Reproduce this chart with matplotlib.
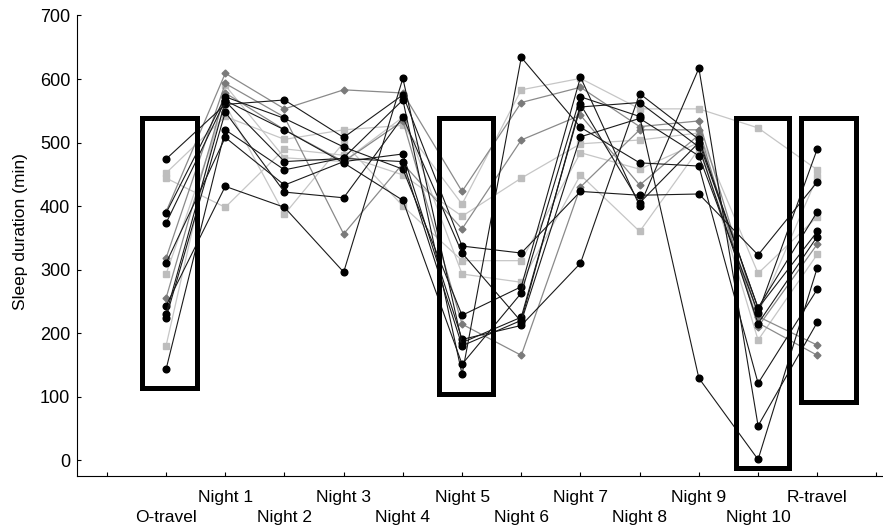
import matplotlib
matplotlib.use("Agg")
import matplotlib.pyplot as plt
from matplotlib.patches import Rectangle

plt.rcParams['font.family'] = ['Liberation Sans', 'DejaVu Sans']

# nights (positions 1..12 on the x axis)
nights = ['O-travel', 'Night 1', 'Night 2', 'Night 3', 'Night 4', 'Night 5',
          'Night 6', 'Night 7', 'Night 8', 'Night 9', 'Night 10', 'R-travel']

# sleep duration (min) per subject
black_subjects = [
    [474, 560, 567, 508, 575, 337, 326, 423, 417, 419, 323, 438],
    [143, 520, 457, 476, 567, 135, 634, 524, 468, 463, 121, 269],
    [310, 508, 433, 470, 482, 190, 212, 310, 577, 505, 239, 360],
    [389, 572, 538, 493, 458, 228, 273, 603, 400, 617, 54, 217],
    [373, 566, 520, 468, 409, 151, 263, 572, 541, 129, 1, 303],
    [243, 431, 398, 296, 601, 185, 225, 556, 563, 493, 215, 352],
    [224, 548, 422, 413, 540, 326, 218, 509, 538, 479, 232, 490],
    [230, 565, 470, 475, 470, 180, 220, 560, 405, 500, 240, 391],
]
gray_subjects = [
    [391, 609, 553, 583, 578, 423, 563, 587, 525, 534, 226, 181],
    [318, 593, 540, 356, 467, 364, 504, 543, 433, 512, 216, 165],
    [255, 578, 520, 470, 534, 214, 165, 430, 520, 520, 210, 340],
]
light_subjects = [
    [452, 541, 505, 520, 527, 403, 583, 601, 553, 553, 523, 457],
    [444, 398, 490, 480, 449, 384, 444, 498, 504, 515, 294, 383],
    [293, 560, 387, 500, 400, 314, 314, 484, 458, 500, 189, 324],
    [180, 590, 476, 470, 540, 293, 280, 449, 360, 490, 230, 446],
]

# highlighted travel / recovery periods (x0, x1, y0, y1 in data units)
boxes = [(0.59, 1.52, 114, 539), (5.61, 6.53, 104, 538),
         (10.62, 11.52, -13, 538), (11.73, 12.66, 92, 538)]

x = list(range(1, len(nights) + 1))

fig = plt.figure(figsize=(8.83, 5.29), dpi=100)
ax = fig.add_axes([0.0875, 0.1002, 0.9125, 0.8705])

for s in light_subjects:
    ax.plot(x, s, color='#c6c6c6', lw=0.9, marker='s', ms=4.5,
            mfc='#bdbdbd', mec='#bdbdbd', zorder=2)
for s in gray_subjects:
    ax.plot(x, s, color='#8a8a8a', lw=0.9, marker='D', ms=3.5,
            mfc='#7a7a7a', mec='#7a7a7a', zorder=3)
for s in black_subjects:
    ax.plot(x, s, color='#1a1a1a', lw=0.8, marker='o', ms=4.8,
            mfc='black', mec='black', zorder=4)

for x0, x1, y0, y1 in boxes:
    ax.add_patch(Rectangle((x0, y0), x1 - x0, y1 - y0, fill=False,
                           ec='black', lw=3.6, zorder=6, clip_on=False))

ax.set_xlim(-0.5, 13.11)
ax.set_ylim(-25, 700)
ax.set_yticks(range(0, 701, 100))
ax.set_xticks(range(0, 14))
labels = [''] + [n if i % 2 else '\n' + n for i, n in enumerate(nights)] + ['']
ax.set_xticklabels(labels, fontsize=12.5, linespacing=1.45)
ax.tick_params(axis='y', labelsize=13, direction='in', length=3, pad=5)
ax.tick_params(axis='x', direction='in', length=3, pad=10)

ax.spines['top'].set_visible(False)
ax.spines['right'].set_visible(False)
ax.set_ylabel('Sleep duration (min)', fontsize=12.5)
ax.yaxis.set_label_coords(-0.061, 0.53)

fig.savefig('out.png', dpi=100)
